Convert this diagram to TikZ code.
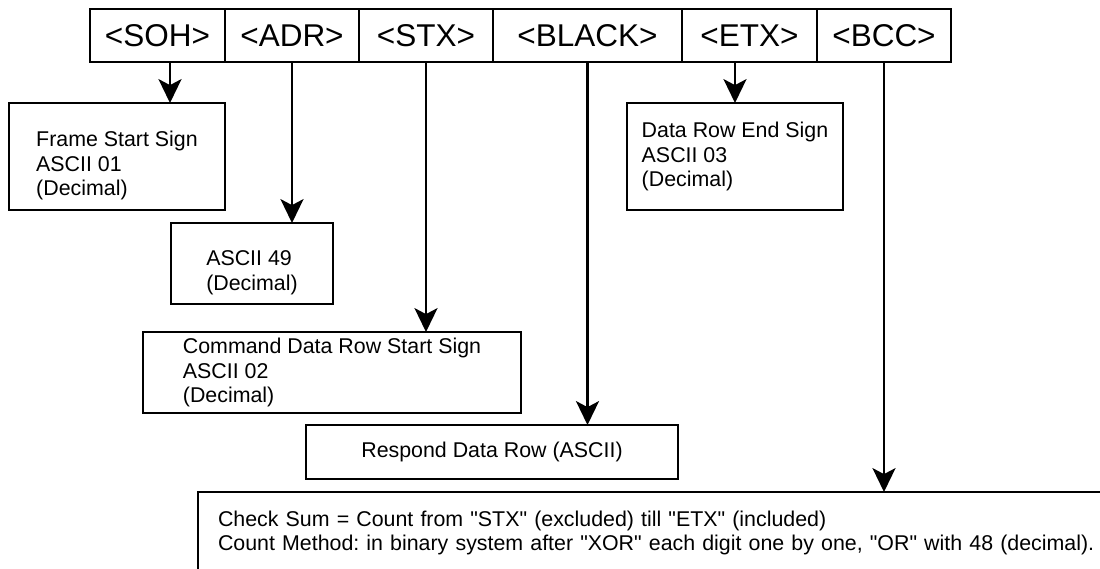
\documentclass[tikz,border=0pt]{standalone}
\usepackage{fontspec}
\setsansfont{Liberation Sans}
\usetikzlibrary{arrows.meta, positioning}
\newlength\pxl
\setlength\pxl{0.025cm}
\newcommand\padtop{\rule{0pt}{24pt}}

\begin{document}
\begin{tikzpicture}[
    x=0.025cm, y=-0.025cm,
    every node/.style={font=\sffamily},
    cell/.style={rectangle, draw, line width=2.1pt, inner sep=0pt, outer sep=0pt,
        minimum height=53\pxl, font=\sffamily\fontsize{22.4}{27}\selectfont},
    note/.style={rectangle, draw, line width=2.1pt, inner sep=0pt, outer sep=0pt,
        align=left, font=\sffamily\fontsize{15.2}{17.4}\selectfont\frenchspacing},
    arr/.style={line width=1.6pt, -{Stealth[length=17pt, width=16.4pt, inset=4.3pt]}},
]
\useasboundingbox (0, 0) rectangle (1100, 569);
\clip (0, 0) rectangle (1100, 569);

% ============================================================ the frame
\node[cell, minimum width=135\pxl, anchor=north west] (soh) at (90, 9) {<SOH>};
\node[cell, minimum width=134\pxl, right=0pt of soh] (adr) {<ADR>};
\node[cell, minimum width=134\pxl, right=0pt of adr] (stx) {<STX>};
\node[cell, minimum width=189\pxl, right=0pt of stx] (black) {<BLACK>};
\node[cell, minimum width=135\pxl, right=0pt of black] (etx) {<ETX>};
\node[cell, minimum width=134\pxl, right=0pt of etx] (bcc) {<BCC>};

% ============================================================ the notes
\node[note, minimum width=216\pxl, minimum height=107\pxl] (sohnote) at (117, 156.5)
    {\padtop Frame Start Sign\\ ASCII 01\\ (Decimal)};
\node[note, minimum width=162\pxl, minimum height=81\pxl] (adrnote) at (252, 263.5)
    {\padtop ASCII 49\\ (Decimal)};
\node[note, minimum width=378\pxl, minimum height=81\pxl] (stxnote) at (332, 372.5)
    {Command Data Row Start Sign\\ ASCII 02\\ (Decimal)};
\node[note, minimum width=372\pxl, minimum height=54\pxl] (blacknote) at (492, 452)
    {Respond Data Row (ASCII)};
\node[note, minimum width=216\pxl, minimum height=107\pxl] (etxnote) at (735, 156.5)
    {Data Row End Sign\\ ASCII 03\\ (Decimal)};
\node[note, anchor=north west, inner xsep=20\pxl, text width=880\pxl, minimum height=82\pxl]
    (bccnote) at (198, 492)
    {Check Sum = Count from \textquotedbl STX\textquotedbl{} (excluded) till \textquotedbl ETX\textquotedbl{} (included)\\
     Count Method: in binary system after \textquotedbl XOR\textquotedbl{} each digit one by one,
     \textquotedbl OR\textquotedbl{} with 48 (decimal).};

% ============================================================ the arrows
\coordinate (sohout) at ([xshift=12.5\pxl]soh.south);
\draw[arr] (sohout) -- (sohout |- sohnote.north);
\draw[arr] (adr.south) -- (adr.south |- adrnote.north);
\draw[arr] (stx.south) -- (stx.south |- stxnote.north);
\draw[arr] (black.south) -- (black.south |- blacknote.north);
\draw[arr] (etx.south -| etxnote.north) -- (etxnote.north);
\draw[arr] (bcc.south) -- (bcc.south |- bccnote.north);

\end{tikzpicture}
\end{document}
